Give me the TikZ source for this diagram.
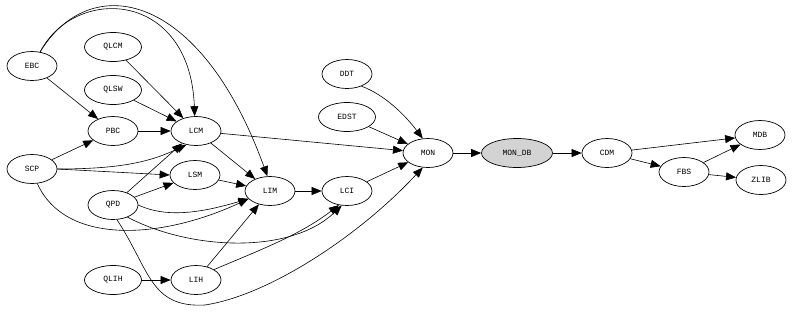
\documentclass[tikz,border=0pt]{standalone}
\usepackage{fontspec}
\setmonofont{Liberation Mono}
\usepackage{tikz}
\usetikzlibrary{arrows.meta,shapes.geometric}
\definecolor{DbGray}{HTML}{D3D3D3}
\tikzset{
  mod/.style={ellipse,draw=black,line width=0.7pt,minimum width=50pt,minimum height=29pt,inner sep=0pt,font=\ttfamily\fontsize{8}{9}\selectfont},
  widemod/.style={mod,minimum width=57pt},
  dbmod/.style={mod,fill=DbGray,minimum width=71pt},
  arrow/.style={-{Triangle[length=10pt,width=8pt]},line width=0.6pt,draw=black}
}
\begin{document}
\begin{tikzpicture}[x=1pt,y=-1pt]
  \useasboundingbox (0,0) rectangle (792,317);

  \node[mod] (ebc) at (32,66) {EBC};
  \node[widemod] (qlcm) at (113,47) {QLCM};
  \node[widemod] (qlsw) at (113,90) {QLSW};
  \node[mod] (pbc) at (113,131) {PBC};
  \node[mod] (lcm) at (196,131) {LCM};
  \node[mod] (scp) at (32,169) {SCP};
  \node[mod] (lsm) at (195,175) {LSM};
  \node[mod] (qpd) at (113,205) {QPD};
  \node[mod] (lim) at (270,191) {LIM};
  \node[mod] (lci) at (347,191) {LCI};
  \node[widemod] (qlih) at (113,280) {QLIH};
  \node[mod] (lih) at (196,280) {LIH};
  \node[mod] (ddt) at (347,74) {DDT};
  \node[widemod] (edst) at (347,117) {EDST};
  \node[mod] (mon) at (428,153) {MON};
  \node[dbmod] (mondb) at (517,153) {MON\_DB};
  \node[mod] (cdm) at (607,153) {CDM};
  \node[mod] (fbs) at (684,172) {FBS};
  \node[mod] (mdb) at (760,135) {MDB};
  \node[mod] (zlib) at (761,180) {ZLIB};

  \draw[arrow] (ebc) -- (pbc);
  \draw[arrow] (ebc.60) .. controls (75,-15) and (190,-10) .. (lcm.95);
  \draw[arrow] (ebc.60) .. controls (90,-30) and (200,-10) .. (lim.100);
  \draw[arrow] (qlcm) -- (lcm);
  \draw[arrow] (qlsw) -- (lcm);
  \draw[arrow] (pbc) -- (lcm);
  \draw[arrow] (scp) -- (pbc);
  \draw[arrow] (scp.east) .. controls (120,169) and (150,162) .. (lcm.235);
  \draw[arrow] (scp.east) -- (lsm.west);
  \draw[arrow] (scp.290) .. controls (65,245) and (160,240) .. (lim.200);
  \draw[arrow] (qpd) -- (lcm);
  \draw[arrow] (qpd) -- (lsm);
  \draw[arrow] (qpd.east) .. controls (170,220) and (210,210) .. (lim.200);
  \draw[arrow] (qpd.320) .. controls (190,250) and (290,255) .. (lci.250);
  \draw[arrow] (qpd.285) .. controls (150,270) and (150,308) .. (205,305)
    .. controls (270,295) and (360,235) .. (mon.250);
  \draw[arrow] (lcm) -- (lim);
  \draw[arrow] (lcm) -- (mon);
  \draw[arrow] (lsm) -- (lim);
  \draw[arrow] (lim) -- (lci);
  \draw[arrow] (lci) -- (mon);
  \draw[arrow] (qlih) -- (lih);
  \draw[arrow] (lih) -- (lim);
  \draw[arrow] (lih.30) .. controls (260,250) and (300,235) .. (lci.240);
  \draw[arrow] (ddt.320) .. controls (385,95) and (405,115) .. (mon.110);
  \draw[arrow] (edst) -- (mon);
  \draw[arrow] (mon) -- (mondb);
  \draw[arrow] (mondb) -- (cdm);
  \draw[arrow] (cdm) -- (mdb);
  \draw[arrow] (cdm) -- (fbs);
  \draw[arrow] (fbs) -- (mdb);
  \draw[arrow] (fbs) -- (zlib);
\end{tikzpicture}
\end{document}
